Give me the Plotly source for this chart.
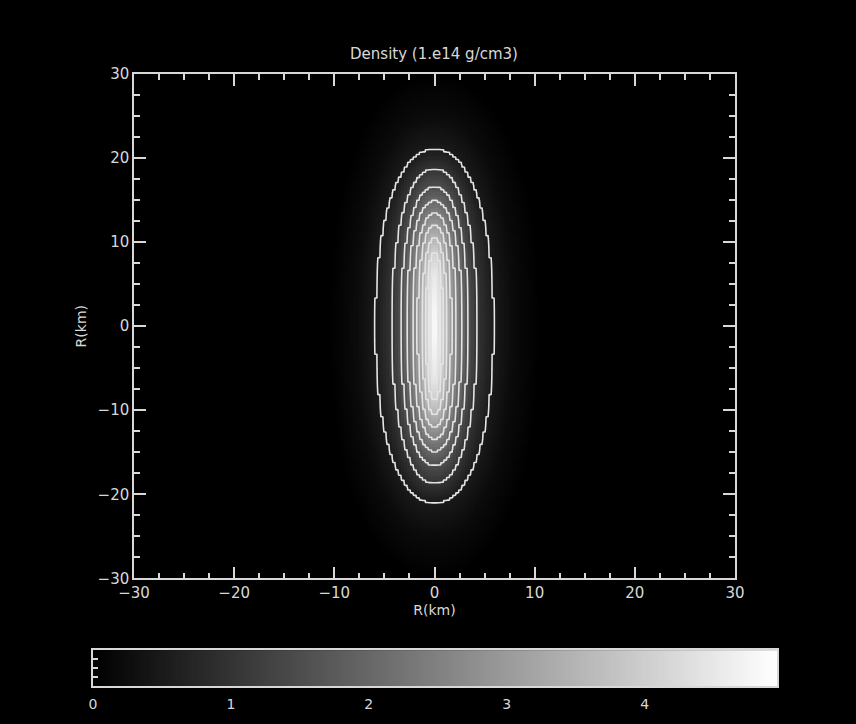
import numpy as np
import plotly.graph_objects as go

# ---------------- data ----------------
title_text = "Density (1.e14 g/cm3)"
axis_label = "R(km)"
peak_density = 4.96
contour_levels = [0.5, 1.0, 1.5, 2.0, 2.5, 3.0, 3.5, 4.0, 4.5]
# density level -> semi-axes (km) of its iso-density curve
profile_levels = [0.0, 0.2, 0.5, 1.0, 1.5, 2.0, 2.5, 3.0, 3.5, 4.0, 4.5, 4.96]
profile_semi_x = [10.5, 7.8, 5.9, 4.27, 3.38, 2.78, 2.2, 1.7, 1.25, 0.85, 0.45, 0.0]
profile_semi_y = [30.0, 25.0, 21.0, 18.7, 16.6, 14.9, 13.4, 12.0, 10.5, 8.8, 6.5, 0.0]
axis_ticks = [-30, -20, -10, 0, 10, 20, 30]
colorbar_ticks = [0, 1, 2, 3, 4]
grid_step = 0.3      # km, simulation cell size
shape_power = 2.2    # super-ellipse exponent of the iso-density curves

# ---------------- density field on the simulation grid ----------------
xc = np.arange(-30 + grid_step / 2, 30, grid_step)
X, Y = np.meshgrid(xc, xc)
lo = np.zeros_like(X)
hi = np.full_like(X, peak_density)
for _ in range(40):
    mid = 0.5 * (lo + hi)
    a = np.maximum(np.interp(mid, profile_levels, profile_semi_x), 1e-6)
    b = np.maximum(np.interp(mid, profile_levels, profile_semi_y), 1e-6)
    g = (np.abs(X) / a) ** shape_power + (np.abs(Y) / b) ** shape_power
    inside = g <= 1
    lo = np.where(inside, mid, lo)
    hi = np.where(inside, hi, mid)
rho = lo

# blocky (nearest-neighbour) version for stair-step contours
sx = np.abs(xc) < 10
sy = np.abs(xc) < 26
sub = rho[np.ix_(sy, sx)]
rep = 3
off = (np.arange(rep) - (rep - 1) / 2) * grid_step / rep
xf = (xc[sx][:, None] + off[None, :]).ravel()
yf = (xc[sy][:, None] + off[None, :]).ravel()
rho_f = np.repeat(np.repeat(sub, rep, axis=0), rep, axis=1)

# ---------------- figure ----------------
W, H = 856, 724
ml, mr, mt, mb = 93, 79, 74, 36
pw, ph = W - ml - mr, H - mt - mb
fg = "#d8d8d8"
font = dict(family="DejaVu Sans", size=15, color=fg)

fig = go.Figure()
fig.add_trace(go.Heatmap(
    x=xc, y=xc, z=rho, colorscale=[[0, "black"], [1, "white"]],
    zmin=0, zmax=peak_density, showscale=False, xaxis="x", yaxis="y",
    hoverinfo="skip"))
fig.add_trace(go.Contour(
    x=xf, y=yf, z=rho_f,
    contours=dict(start=contour_levels[0], end=contour_levels[-1],
                  size=contour_levels[1] - contour_levels[0], coloring="none"),
    line=dict(color="#e4e4e4", width=1.6, smoothing=0),
    showscale=False, xaxis="x", yaxis="y", hoverinfo="skip"))

cb_vals = np.linspace(0, peak_density, 300)
fig.add_trace(go.Heatmap(
    x=cb_vals, y=[0.5], z=[cb_vals], colorscale=[[0, "black"], [1, "white"]],
    zmin=0, zmax=peak_density, showscale=False, xaxis="x2", yaxis="y2",
    hoverinfo="skip"))

axis_common = dict(
    range=[-30, 30], tickvals=axis_ticks, ticktext=[str(t).replace("-", "\u2212") for t in axis_ticks],
    ticks="inside", ticklen=12, tickwidth=1.5, tickcolor=fg,
    minor=dict(dtick=2.5, tick0=0, ticks="inside", ticklen=6, tickwidth=1.5, tickcolor=fg),
    showline=True, linecolor=fg, linewidth=1.5, mirror="ticks",
    showgrid=False, zeroline=False, tickfont=dict(family="DejaVu Sans", size=15, color=fg),
    title=dict(text=axis_label, font=dict(family="DejaVu Sans", size=14, color=fg)),
)

fig.update_layout(
    width=W, height=H,
    margin=dict(l=ml, r=mr, t=mt, b=mb),
    paper_bgcolor="black", plot_bgcolor="black",
    font=font, showlegend=False,
    title=dict(text=title_text, x=434 / W, xanchor="center",
               y=1 - 54 / H, yanchor="middle",
               font=dict(family="DejaVu Sans", size=15, color=fg)),
    xaxis=dict(axis_common, domain=[(134 - ml) / pw, (735 - ml) / pw], anchor="y"),
    yaxis=dict(axis_common, domain=[(H - mb - 580) / ph, 1], anchor="x"),
    xaxis2=dict(domain=[0, 1], range=[0, peak_density], anchor="y2",
                tickvals=colorbar_ticks, ticks="", showline=True, linecolor=fg,
                linewidth=1.5, mirror=True, showgrid=False, zeroline=False,
                ticklabelstandoff=4,
                tickfont=dict(family="DejaVu Sans", size=14, color=fg)),
    xaxis3=dict(overlaying="x2", anchor="y2", side="top", range=[0, peak_density],
                tick0=0, dtick=0.2, ticks="inside", ticklen=3, tickwidth=1.5,
                tickcolor=fg, showticklabels=False, showgrid=False, zeroline=False),
    yaxis2=dict(domain=[0, 36 / ph], range=[0, 1], anchor="x2",
                tickvals=[0.25, 0.5, 0.75], ticks="inside", ticklen=5, tickwidth=1.5,
                tickcolor=fg, showticklabels=False, showline=True, linecolor=fg,
                linewidth=1.5, mirror=True, showgrid=False, zeroline=False),
)
fig.layout.xaxis.title.standoff = 2
fig.layout.yaxis.title.standoff = 8

fig.write_html("out.html")
